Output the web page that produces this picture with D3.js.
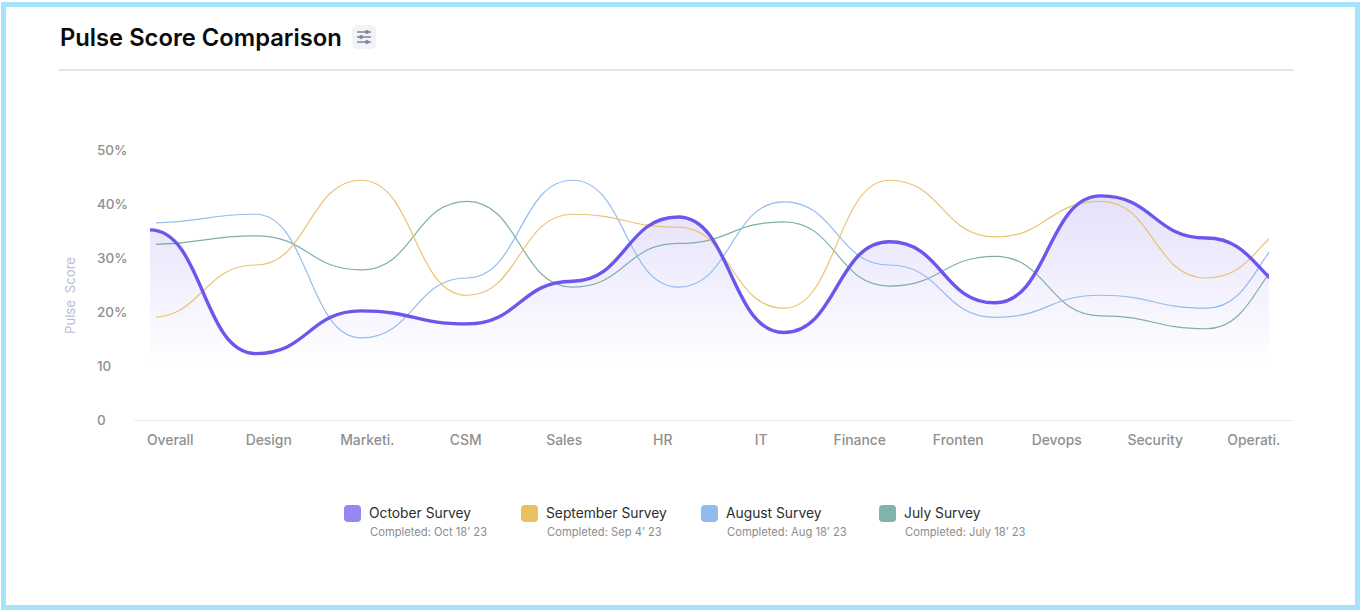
<!DOCTYPE html>
<html lang="en">
  <head>
    <meta charset="utf-8">
    <script src="https://d3js.org/d3.v7.min.js"></script>
    <style>
      body { margin: 0; background: #fff; }
      svg { display: block; }
      text { font-family: "Inter", "Noto Sans", sans-serif; }
      .tick text { font-size: 13.5px; font-weight: 500; fill: #8f8f8f; }
      .x-axis .tick text { font-size: 13.9px; }
    </style>
  </head>
  <body>
    <svg width="1362" height="612"></svg>
    <script type="text/javascript">
      // Chart data
      var categories = ["Overall", "Design", "Marketi.", "CSM", "Sales", "HR", "IT",
        "Finance", "Fronten", "Devops", "Security", "Operati."];
      var october = [35.2, 12.3, 20.2, 17.8, 25.7, 37.6, 16.2, 33, 21.7, 41.5, 33.7, 23];
      var september = [19, 28.7, 44.4, 23.1, 38.1, 35.7, 20.7, 44.4, 33.9, 40.5, 26.3, 37];
      var august = [36.5, 38.1, 15.2, 26.3, 44.4, 24.6, 40.4, 28.7, 19, 23.1, 20.7, 36];
      var july = [32.5, 34.1, 27.8, 40.5, 24.6, 32.7, 36.7, 24.8, 30.3, 19.3, 16.9, 32];
      var yTicks = [0, 10, 20, 30, 40, 50];
      var surveyNames = ["October Survey", "September Survey", "August Survey", "July Survey"];
      var completedDates = ["Completed: Oct 18’ 23", "Completed: Sep 4’ 23",
        "Completed: Aug 18’ 23", "Completed: July 18’ 23"];
      var swatchColors = ["#9488f2", "#e8bf62", "#90bbec", "#7fb3ab"];

      var svg = d3.select("svg");

      // Frame, title and divider
      svg.append("rect").attr("x", 3.5).attr("y", 4.5).attr("width", 1354).attr("height", 603)
        .attr("fill", "#fff").attr("stroke", "#a6e3fb").attr("stroke-width", 5);
      svg.append("text").attr("x", 60).attr("y", 46)
        .attr("font-size", 23.75).attr("font-weight", 600).attr("fill", "#0b0b0b")
        .text("Pulse Score Comparison");
      svg.append("rect").attr("x", 352).attr("y", 25).attr("width", 24).attr("height", 24)
        .attr("rx", 5).attr("fill", "#f1f3f7");
      // Filter icon
      var icon = svg.append("g").attr("stroke", "#7c869c").attr("stroke-width", 1.5).attr("fill", "#7c869c");
      [[32, 367], [37, 361], [42, 367]].forEach(function(d) {
        icon.append("line").attr("x1", 357).attr("x2", 371).attr("y1", d[0]).attr("y2", d[0]);
        icon.append("circle").attr("cx", d[1]).attr("cy", d[0]).attr("r", 1.2);
      });
      svg.append("line").attr("x1", 59).attr("x2", 1294).attr("y1", 70).attr("y2", 70)
        .attr("stroke", "#dcdcdc").attr("stroke-width", 1.5);

      // Scales
      var yScale = d3.scaleLinear().domain([0, 50]).range([420, 150]);
      var xScale = d3.scalePoint().domain(categories).range([150, 1312]);
      var labelScale = d3.scaleBand().domain(categories).range([121, 1303]);

      // Axes
      var yAxis = d3.axisLeft(yScale).tickValues(yTicks).tickSize(0)
        .tickFormat(function(d) { return d >= 20 ? d + "%" : d; });
      svg.append("g").attr("transform", "translate(97,0)").call(yAxis)
        .call(function(g) { g.select(".domain").remove(); })
        .selectAll("text").attr("x", 0).attr("text-anchor", "start");

      var xAxis = d3.axisBottom(labelScale).tickSize(0);
      svg.append("g").attr("class", "x-axis").attr("transform", "translate(0,420)").call(xAxis)
        .call(function(g) { g.select(".domain").remove(); })
        .selectAll("text").attr("y", 15.5);
      svg.append("line").attr("x1", 134).attr("x2", 1294).attr("y1", 420.5).attr("y2", 420.5)
        .attr("stroke", "#ececec");

      svg.append("text").attr("transform", "translate(75,295.5) rotate(-90)")
        .attr("text-anchor", "middle").attr("font-size", 13.2).attr("word-spacing", 3)
        .attr("fill", "#b9c0d2").text("Pulse Score");

      // Clips and gradient
      var defs = svg.append("defs");
      defs.append("clipPath").attr("id", "clip-main").append("rect")
        .attr("x", 150).attr("y", 100).attr("width", 1119).attr("height", 320);
      defs.append("clipPath").attr("id", "clip-thin").append("rect")
        .attr("x", 156).attr("y", 100).attr("width", 1113).attr("height", 320);
      var grad = defs.append("linearGradient").attr("id", "area-fill")
        .attr("gradientUnits", "userSpaceOnUse")
        .attr("x1", 0).attr("x2", 0).attr("y1", yScale(41.5)).attr("y2", yScale(10));
      grad.append("stop").attr("offset", 0).attr("stop-color", "#6c56ec").attr("stop-opacity", 0.18);
      grad.append("stop").attr("offset", 1).attr("stop-color", "#6c56ec").attr("stop-opacity", 0);

      // Lines
      var line = d3.line()
        .x(function(d, i) { return xScale(categories[i]); })
        .y(function(d) { return yScale(d); })
        .curve(d3.curveBumpX);
      var area = d3.area()
        .x(function(d, i) { return xScale(categories[i]); })
        .y0(yScale(10))
        .y1(function(d) { return yScale(d); })
        .curve(d3.curveBumpX);

      svg.append("path").datum(october).attr("d", area)
        .attr("clip-path", "url(#clip-main)").attr("fill", "url(#area-fill)");

      var thinSeries = [[july, "#7fb0a8"], [august, "#92bdee"], [september, "#ebc26f"]];
      thinSeries.forEach(function(s) {
        svg.append("path").datum(s[0]).attr("d", line)
          .attr("clip-path", "url(#clip-thin)")
          .attr("fill", "none").attr("stroke", s[1]).attr("stroke-width", 1.2);
      });
      svg.append("path").datum(october).attr("d", line)
        .attr("clip-path", "url(#clip-main)")
        .attr("fill", "none").attr("stroke", "#6c56ec").attr("stroke-width", 3.4);

      // Legend
      var legendX = d3.scaleOrdinal().domain(surveyNames).range([344, 521, 701, 879]);
      var legend = svg.selectAll(".legend").data(surveyNames).enter().append("g")
        .attr("class", "legend")
        .attr("transform", function(d) { return "translate(" + legendX(d) + ",505)"; });
      legend.append("rect").attr("width", 17).attr("height", 17).attr("rx", 4)
        .attr("fill", function(d, i) { return swatchColors[i]; });
      legend.append("text").attr("x", 25).attr("y", 13)
        .attr("font-size", 13.8).attr("fill", "#2e2e2e").text(function(d) { return d; });
      legend.append("text").attr("x", 26).attr("y", 31)
        .attr("font-size", 11.2).attr("fill", "#8c8c8c")
        .text(function(d, i) { return completedDates[i]; });
    </script>
  </body>
</html>
